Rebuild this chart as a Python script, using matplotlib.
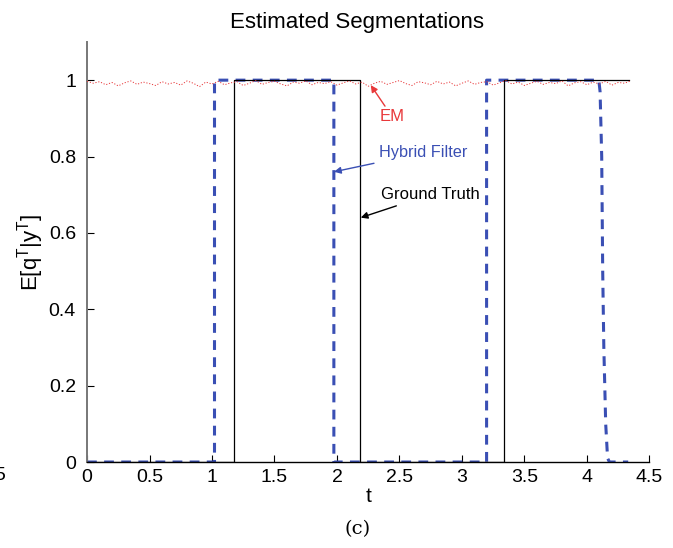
import numpy as np
import matplotlib.pyplot as plt

plt.rcParams['font.family'] = ['Liberation Sans', 'DejaVu Sans']
plt.rcParams['mathtext.fontset'] = 'custom'
plt.rcParams['mathtext.rm'] = 'Liberation Sans'
plt.rcParams['mathtext.it'] = 'Liberation Sans'

# Ground truth segmentation (step function)
gt_t = [0, 1.175, 1.175, 2.185, 2.185, 3.34, 3.34, 4.34]
gt_v = [0, 0, 1, 1, 0, 0, 1, 1]

# Hybrid filter estimate
hf_t = [0, 1.02, 1.02, 1.975, 1.975, 3.197, 3.197, 4.095, 4.105, 4.118,
        4.126, 4.135, 4.15, 4.165, 4.18, 4.33]
hf_v = [0, 0, 1, 1, 0, 0, 1, 1, 0.97, 0.8, 0.5, 0.3, 0.1, 0.01, 0, 0]

# EM estimate (noisy, close to 1 everywhere)
em_vals = [0.997, 0.992, 0.996, 0.988, 0.994, 0.985, 0.993, 0.998, 0.989, 0.995,
           0.991, 0.986, 0.996, 0.990, 0.994, 0.987, 0.998, 0.992, 0.983, 0.995,
           0.990, 0.997, 0.988, 0.993, 0.996, 0.986, 0.992, 0.999, 0.989, 0.994,
           0.997, 0.990, 0.985, 0.995, 0.992, 0.998, 0.988, 0.994, 0.991, 0.996,
           0.987, 0.993, 0.998, 0.990, 0.995, 0.984, 0.992, 0.997, 0.989, 0.994,
           0.999, 0.991, 0.986, 0.996, 0.993, 0.988, 0.997, 0.990, 0.995, 0.985,
           0.992, 0.998, 0.989, 0.994, 0.996, 0.987, 0.993, 0.999, 0.990, 0.995,
           0.986, 0.992, 0.997, 0.989, 0.994, 0.991, 0.998, 0.985, 0.993, 0.996,
           0.988, 0.995, 0.990, 0.997, 0.987, 0.994, 0.992, 0.998]
em_t = np.linspace(0, 4.35, len(em_vals))

xticks = [0, 0.5, 1, 1.5, 2, 2.5, 3, 3.5, 4, 4.5]
xticklabels = ['0', '0.5', '1', '1.5', '2', '2.5', '3', '3.5', '4', '4.5']
yticks = [0, 0.2, 0.4, 0.6, 0.8, 1]
yticklabels = ['0', '0.2', '0.4', '0.6', '0.8', '1']

blue = '#3a4fb4'
red = '#e8383a'

fig = plt.figure(figsize=(6.73, 5.48), dpi=100)
ax = fig.add_axes([0.1293, 0.1569, 0.8357, 0.7665])

ax.plot(gt_t, gt_v, color='black', lw=0.9, zorder=3)
ax.plot(hf_t, hf_v, color=blue, lw=2.2, dashes=(3.2, 2.4), zorder=2)
ax.plot(em_t, em_vals, color=red, lw=0.7, dashes=(1.2, 1.8), zorder=4)

ax.set_xlim(0, 4.5)
ax.set_ylim(0, 1.1)
ax.set_xticks(xticks)
ax.set_xticklabels(xticklabels)
ax.set_yticks(yticks)
ax.set_yticklabels(yticklabels)
ax.tick_params(direction='in', length=5, labelsize=14, width=0.8)
ax.tick_params(axis='x', pad=5)
ax.tick_params(axis='y', pad=8)

for s in ['top', 'right']:
    ax.spines[s].set_visible(False)
ax.spines['left'].set_color('#777777')
ax.spines['left'].set_linewidth(1.4)
ax.spines['bottom'].set_linewidth(1.0)

ax.set_title('Estimated Segmentations', fontsize=16, x=0.48, pad=10)
ax.set_xlabel('t', fontsize=15, labelpad=1)
ax.set_ylabel(r'E[q$^\mathrm{T}$|y$^\mathrm{T}$]', fontsize=16, labelpad=2)

ax.annotate('EM', xy=(2.27, 0.987), xytext=(2.34, 0.905), color=red, fontsize=12,
            va='center', ha='left',
            arrowprops=dict(arrowstyle='-|>', color=red, lw=1.0, mutation_scale=10,
                            shrinkA=0, shrinkB=0))
ax.annotate('Hybrid Filter', xy=(1.976, 0.76), xytext=(2.34, 0.81), color=blue,
            fontsize=11.7, va='center', ha='left',
            arrowprops=dict(arrowstyle='-|>', color=blue, lw=1.0, mutation_scale=10,
                            shrinkA=2, shrinkB=0))
ax.annotate('Ground Truth', xy=(2.19, 0.64), xytext=(2.35, 0.70), color='black',
            fontsize=12, va='center', ha='left',
            arrowprops=dict(arrowstyle='-|>', color='black', lw=1.0, mutation_scale=10,
                            shrinkA=2, shrinkB=0))

fig.text(0.532, 0.035, '(c)', family='DejaVu Serif', fontsize=14, ha='center', va='center')
fig.text(-0.008, 0.133, '5', fontsize=14, ha='left', va='center')

fig.savefig('out.png', dpi=100)
